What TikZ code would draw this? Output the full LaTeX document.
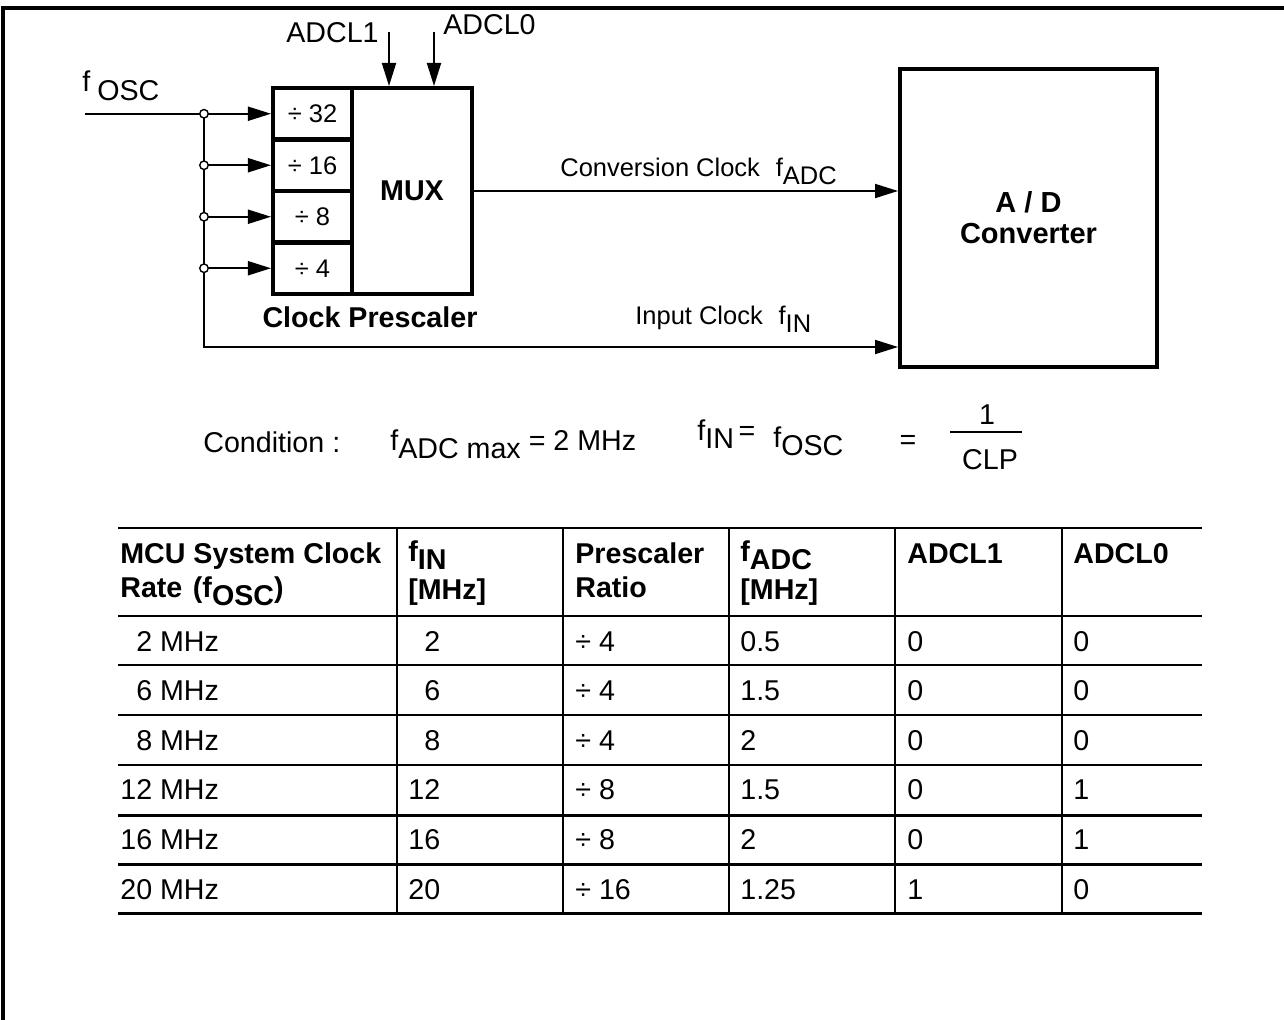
\documentclass[tikz,border=0pt]{standalone}
\usepackage{fontspec}
\setmainfont{Liberation Sans}
\usepackage{tikz}
\usetikzlibrary{arrows.meta,calc}

\newcommand{\lowr}[1]{\raisebox{-0.28em}{#1}}

\begin{document}
\begin{tikzpicture}[x=0.02cm,y=-0.02cm,
    >={Triangle[length=0.46cm,width=0.28cm]},
    wire/.style={line width=1.1pt},
    heavy/.style={line width=2.3pt},
    rule/.style={line width=1.7pt},
    txt/.style={inner sep=0pt,font=\fontsize{16.3}{19}\selectfont},
    smalltxt/.style={inner sep=0pt,font=\fontsize{14.5}{17}\selectfont},
    headtxt/.style={inner sep=0pt,font=\fontsize{16.3}{19}\selectfont\bfseries},
    divcell/.style={draw,heavy,minimum width=1.58cm,minimum height=1.03cm,inner sep=0pt,
      font=\fontsize{14.5}{17}\selectfont},
    junc/.style={circle,draw,fill=white,line width=0.8pt,inner sep=0pt,minimum size=0.17cm}]

  \useasboundingbox (0,0) rectangle (1284,1020);

  % frame
  \draw[heavy] (3,1020) -- (3,8) -- (1284,8);

  % clock prescaler
  \foreach \n [count=\i from 0] in {32,16,8,4}
    \node[divcell] (d\n) at (312.5,{113.75+51.5*\i}) {÷ \n};
  \node[draw,heavy,minimum width=2.4cm,minimum height=4.12cm,
    font=\fontsize{16.3}{19}\selectfont\bfseries] (mux) at (412,191) {MUX};
  \node[headtxt,anchor=base] (cpl) at (370,328) {Clock Prescaler};

  % converter
  \node[draw,heavy,minimum width=5.14cm,minimum height=5.96cm,align=center,
    font=\fontsize{16.5}{17.6}\selectfont\bfseries] (adc) at (1028.5,218) {A / D\\Converter};

  % select inputs
  \coordinate (a1) at (389,32);
  \coordinate (a0) at (434,32);
  \draw[wire,->] (a1) -- (a1 |- mux.north);
  \draw[wire,->] (a0) -- (a0 |- mux.north);
  \node[txt,anchor=base east] (la1) at (379,43) {ADCL1};
  \node[txt,anchor=base west] (la0) at (443,35) {ADCL0};

  % oscillator input and bus
  \coordinate (fosc) at (85,113.75);
  \coordinate (busx) at (204,0);
  \coordinate (busend) at (204,347);
  \node[txt,anchor=base west] (lfosc) at (82,92) {f\hspace{4pt}\lowr{OSC}};
  \draw[wire,->] (fosc) -- (d32.west);
  \foreach \n in {16,8,4}
    \draw[wire,->] (d\n.west -| busx) -- (d\n.west);
  \draw[wire,->] (d32.west -| busx) -- (busend) -- (busend -| adc.west);
  \foreach \n in {32,16,8,4}
    \node[junc] (j\n) at (d\n.west -| busx) {};

  % clocks to converter
  \draw[wire,->] (mux.east) -- (mux.east -| adc.west);
  \node[smalltxt,anchor=base west] (lconv) at (560,177) {Conversion Clock\hspace{9pt}f\lowr{ADC}};
  \node[smalltxt,anchor=base west] (lin) at (635,325) {Input Clock\hspace{9pt}f\lowr{IN}};

  % condition
  \node[txt,anchor=base west] (cond) at (203,452) {Condition :};
  \node[txt,anchor=base west] (fmax) at (390,450) {f\lowr{ADC max} = 2 MHz};
  \node[txt,anchor=base west] (fineq) at (697,440) {f\lowr{IN}\,=};
  \node[txt,anchor=base west] (fosceq) at (773,447) {f\lowr{OSC}};
  \node[txt] (eq) at (908,442) {=};
  \node[txt] (one) at (987,415) {1};
  \node[txt] (clp) at (990,460) {CLP};
  \draw[wire] (950,432) -- (1022,432);

  % table
  \foreach \y in {528,616,665,715,765,815,864,913}
    \draw[rule] (118,\y) -- (1202,\y);
  \foreach \x in {397,563,729,895,1062}
    \draw[wire] (\x,528) -- (\x,913);

  \node[headtxt,anchor=base west] (h1a) at (120,563) {MCU System Clock};
  \node[headtxt,anchor=base west] (h1b) at (120,597) {Rate\hspace{6pt}(f\lowr{OSC})};
  \node[headtxt,anchor=base west] (h2a) at (408,561) {f\lowr{IN}};
  \node[headtxt,anchor=base west] (h2b) at (408,599) {[MHz]};
  \node[headtxt,anchor=base west] (h3a) at (575,563) {Prescaler};
  \node[headtxt,anchor=base west] (h3b) at (575,597) {Ratio};
  \node[headtxt,anchor=base west] (h4a) at (740,561) {f\lowr{ADC}};
  \node[headtxt,anchor=base west] (h4b) at (740,599) {[MHz]};
  \node[headtxt,anchor=base west] (h5a) at (907,563) {ADCL1};
  \node[headtxt,anchor=base west] (h6a) at (1073,563) {ADCL0};

  \foreach \clk/\fin/\rat/\fadc/\bone/\bzero [count=\r from 0] in {%
      \phantom{1}2 MHz/\phantom{1}2/4/0.5/0/0,
      \phantom{1}6 MHz/\phantom{1}6/4/1.5/0/0,
      \phantom{1}8 MHz/\phantom{1}8/4/2/0/0,
      12 MHz/12/8/1.5/0/1,
      16 MHz/16/8/2/0/1,
      20 MHz/20/16/1.25/1/0} {
    \pgfmathsetmacro{\yb}{651+49.6*\r}
    \node[txt,anchor=base west] (c1r\r) at (120,\yb) {\clk};
    \node[txt,anchor=base west] (c2r\r) at (408,\yb) {\fin};
    \node[txt,anchor=base west] (c3r\r) at (575,\yb) {÷ \rat};
    \node[txt,anchor=base west] (c4r\r) at (740,\yb) {\fadc};
    \node[txt,anchor=base west] (c5r\r) at (907,\yb) {\bone};
    \node[txt,anchor=base west] (c6r\r) at (1073,\yb) {\bzero};
  }
\end{tikzpicture}
\end{document}
